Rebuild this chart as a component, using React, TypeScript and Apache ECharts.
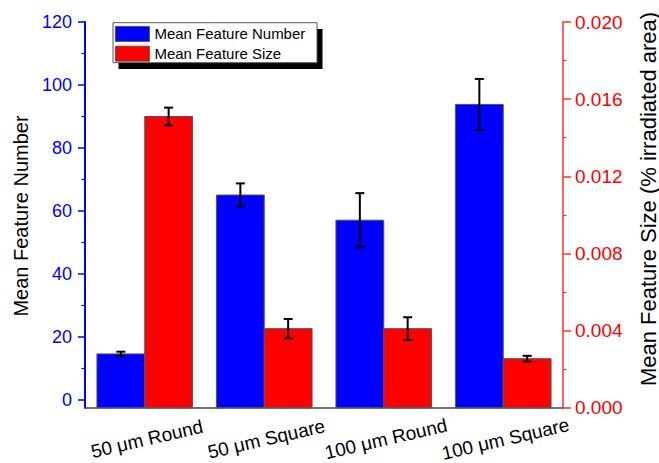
import React, { useEffect, useRef } from "react";
import * as echarts from "echarts";

const categories = ["50 μm Round", "50 μm Square", "100 μm Round", "100 μm Square"];
const featureNumber = [14.5, 65.0, 57.0, 93.8];
const featureNumberErr = [0.7, 3.7, 8.6, 8.1];
const featureSize = [0.0151, 0.0041, 0.0041, 0.00254];
const featureSizeErr = [0.00046, 0.0005, 0.00059, 0.00015];
const leftTicks = [0, 20, 40, 60, 80, 100, 120];
const leftMinorTicks = [10, 30, 50, 70, 90, 110];

const FONT = "'Liberation Sans', Arial, sans-serif";
const BLUE = "#0000ff";
const RED = "#ff0000";

function makeRenderItem(side: number, color: string) {
  return (params: any, api: any) => {
    const i = api.value(0);
    const v = api.value(1);
    const e = api.value(2);
    const top = api.coord([i, v]);
    const cs = params.coordSys;
    const bottom = cs.y + cs.height;
    const bw = api.size([1, 0])[0] * 0.4;
    const x0 = side < 0 ? top[0] - bw : top[0];
    const cx = x0 + bw / 2;
    const hi = api.coord([i, v + e])[1];
    const lo = api.coord([i, v - e])[1];
    const ls = { stroke: "#000", lineWidth: 2 };
    return {
      type: "group",
      children: [
        { type: "rect", shape: { x: x0, y: top[1], width: bw, height: bottom - top[1] }, style: { fill: color, stroke: "#555", lineWidth: 1 } },
        { type: "line", shape: { x1: cx, y1: hi, x2: cx, y2: lo }, style: ls },
        { type: "line", shape: { x1: cx - 4.5, y1: hi, x2: cx + 4.5, y2: hi }, style: ls },
        { type: "line", shape: { x1: cx - 4.5, y1: lo, x2: cx + 4.5, y2: lo }, style: ls },
      ],
    };
  };
}

export default function App() {
  const ref = useRef<HTMLDivElement>(null);
  useEffect(() => {
    if (!ref.current) return;
    const chart = echarts.init(ref.current, undefined, { renderer: "svg" });
    chart.setOption({
      animation: false,
      textStyle: { fontFamily: FONT },
      grid: { left: 85, right: 96, top: 22, bottom: 55.3, containLabel: false, outerBoundsMode: "none" },
      legend: {
        orient: "vertical",
        left: 115,
        top: 26,
        padding: 0,
        itemWidth: 34,
        itemHeight: 15,
        itemGap: 4,
        icon: "rect",
        textStyle: { fontSize: 15, color: "#000", fontFamily: FONT },
        data: [
          { name: "Mean Feature Number", itemStyle: { color: BLUE, borderColor: "#444", borderWidth: 0.8 } },
          { name: "Mean Feature Size", itemStyle: { color: RED, borderColor: "#444", borderWidth: 0.8 } },
        ],
      },
      graphic: [
        { type: "rect", z: 1, shape: { x: 118.5, y: 29, width: 204, height: 40 }, style: { fill: "#000" } },
        { type: "rect", z: 2, shape: { x: 113, y: 22.7, width: 204, height: 40 }, style: { fill: "#fff", stroke: "#555", lineWidth: 1 } },
        {
          type: "text", x: 20.8, y: 216, rotation: Math.PI / 2,
          style: { text: "Mean Feature Number", fontSize: 20, fontFamily: FONT, fill: "#000", align: "center", verticalAlign: "middle" },
        },
        {
          type: "text", x: 648, y: 199, rotation: Math.PI / 2,
          style: { text: "Mean Feature Size (% irradiated area)", fontSize: 22, fontFamily: FONT, fill: "#000", align: "center", verticalAlign: "middle" },
        },
      ],
      xAxis: {
        type: "category",
        data: categories,
        boundaryGap: true,
        axisLine: { onZero: false, lineStyle: { color: "#444", width: 1.5 } },
        axisTick: { alignWithLabel: true, length: 7, lineStyle: { color: "#000", width: 1.5 } },
        axisLabel: {
          interval: 0, rotate: 13, align: "center", verticalAlign: "top", margin: 22,
          fontSize: 19, lineHeight: 19, color: "#000", fontFamily: FONT,
        },
        splitLine: { show: false },
      },
      yAxis: [
        {
          type: "value", position: "left", min: -2.6, max: 120,
          axisLine: { show: true, lineStyle: { color: BLUE, width: 2 } },
          axisTick: { show: true, customValues: leftTicks, length: 7, lineStyle: { color: BLUE, width: 1.5 } },
          axisLabel: { customValues: leftTicks, color: BLUE, fontSize: 18, margin: 13, fontFamily: FONT },
          splitLine: { show: false },
        },
        {
          type: "value", position: "right", min: 0, max: 0.02, interval: 0.004,
          axisLine: { show: true, lineStyle: { color: "#ff3030", width: 1.5 } },
          axisTick: { show: true, length: 8, lineStyle: { color: "#ff3030", width: 1.5 } },
          minorTick: { show: true, splitNumber: 2, length: 3.5, lineStyle: { color: "#ff3030", width: 1.2 } },
          axisLabel: { color: RED, fontSize: 19, margin: 12, fontFamily: FONT, formatter: (v: number) => v.toFixed(3) },
          splitLine: { show: false },
          minorSplitLine: { show: false },
        },
        {
          type: "value", position: "left", min: -2.6, max: 120,
          axisLine: { show: false },
          axisTick: { show: true, customValues: leftMinorTicks, length: 3.5, lineStyle: { color: BLUE, width: 1.2 } },
          axisLabel: { show: false },
          splitLine: { show: false },
        },
      ],
      series: [
        {
          name: "Mean Feature Number",
          type: "custom",
          yAxisIndex: 0,
          itemStyle: { color: BLUE },
          encode: { x: 0, y: 1 },
          renderItem: makeRenderItem(-1, BLUE),
          data: featureNumber.map((v, i) => [i, v, featureNumberErr[i]]),
          z: 3,
        },
        {
          name: "Mean Feature Size",
          type: "custom",
          yAxisIndex: 1,
          itemStyle: { color: RED },
          encode: { x: 0, y: 1 },
          renderItem: makeRenderItem(1, RED),
          data: featureSize.map((v, i) => [i, v, featureSizeErr[i]]),
          z: 3,
        },
      ],
    });
    return () => chart.dispose();
  }, []);
  return <div ref={ref} style={{ position: "fixed", left: 0, top: 0, width: 659, height: 463, background: "#fff" }} />;
}
